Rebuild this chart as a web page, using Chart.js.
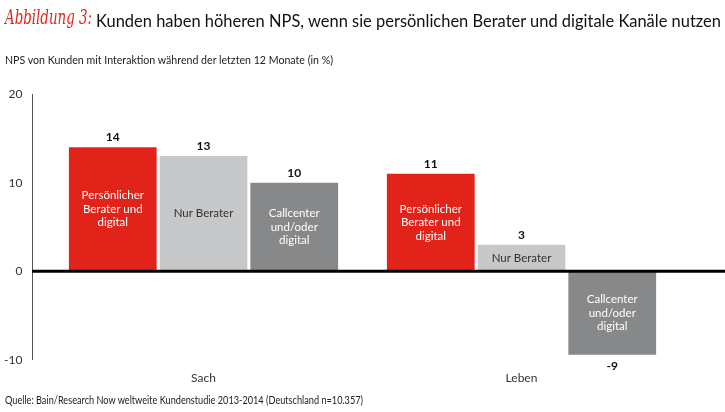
<!DOCTYPE html>
<html>
<head>
<meta charset="utf-8">
<script src="https://cdn.jsdelivr.net/npm/chart.js@4.4.1/dist/chart.umd.min.js"></script>
<style>
  html, body { margin: 0; padding: 0; background: #fff; }
  #wrap { position: relative; width: 725px; height: 412px; overflow: hidden; font-family: Lato, "Noto Sans", sans-serif; }
  #chart { position: absolute; left: 0; top: 0; }
  .txt { position: absolute; white-space: nowrap; color: #222; transform-origin: left center; }
  #fig { left: 5px; top: 5px; font-family: "DejaVu Serif", serif; font-style: italic; font-size: 21px; color: #e2231a; }
  #title { left: 96px; top: 9px; font-size: 18px; color: #111; }
  #sub { left: 5px; top: 53px; font-size: 11px; }
  #src { left: 5px; top: 393px; font-size: 11px; }
</style>
</head>
<body>
<div id="wrap">
  <canvas id="chart" width="725" height="412"></canvas>
  <div class="txt" id="fig" data-w="87">Abbildung 3:</div>
  <div class="txt" id="title" data-w="625">Kunden haben höheren NPS, wenn sie persönlichen Berater und digitale Kanäle nutzen</div>
  <div class="txt" id="sub" data-w="328">NPS von Kunden mit Interaktion während der letzten 12 Monate (in %)</div>
  <div class="txt" id="src" data-w="358">Quelle: Bain/Research Now weltweite Kundenstudie 2013-2014 (Deutschland n=10.357)</div>
</div>
<script>
var categories = ['Sach', 'Leben'];
var seriesNames = ['Persönlicher Berater und digital', 'Nur Berater', 'Callcenter und/oder digital'];
var beraterDigital = [14, 11];
var nurBerater = [13, 3];
var callcenterDigital = [10, -9.4];
var yTicks = [-10, 0, 10, 20];

// text printed inside each bar
var innerLines = [
    ['Persönlicher', 'Berater und', 'digital'],
    ['Nur Berater'],
    ['Callcenter', 'und/oder', 'digital']
];
var innerColors = ['#ffffff', '#333333', '#ffffff'];

// squeeze the header/footer texts to the reference widths (narrow font in original)
document.querySelectorAll('.txt').forEach(function(el) {
    var w = el.getBoundingClientRect().width;
    el.style.transform = 'scaleX(' + (parseFloat(el.dataset.w) / w) + ')';
});

// axis line at x=32 and the heavy zero line
var axisLines = {
    id: 'axisLines',
    afterDatasetsDraw: function(chart) {
        var c = chart.ctx;
        var y = chart.scales.y;
        var zero = y.getPixelForValue(0);
        c.save();
        c.strokeStyle = '#555';
        c.lineWidth = 1;
        c.beginPath();
        c.moveTo(32.5, y.getPixelForValue(20));
        c.lineTo(32.5, y.getPixelForValue(-10));
        c.stroke();
        c.strokeStyle = '#000';
        c.lineWidth = 3;
        c.beginPath();
        c.moveTo(32, zero);
        c.lineTo(725, zero);
        c.stroke();
        c.restore();
    }
};

var barLabels = {
    id: 'barLabels',
    afterDatasetsDraw: function(chart) {
        var c = chart.ctx;
        c.save();
        c.textAlign = 'center';
        c.textBaseline = 'middle';
        chart.data.datasets.forEach(function(ds, i) {
            var meta = chart.getDatasetMeta(i);
            meta.data.forEach(function(bar, j) {
                var v = ds.data[j];
                c.font = 'bold 12px Lato, "Noto Sans", sans-serif';
                c.fillStyle = '#111';
                var ly = v >= 0 ? bar.y - 10 : bar.y + 11;
                c.fillText(String(Math.round(v)), bar.x, ly);
                c.font = '11.5px Lato, "Noto Sans", sans-serif';
                c.fillStyle = innerColors[i];
                var lines = innerLines[i];
                var mid = (bar.y + bar.base) / 2;
                var lh = 13.5;
                lines.forEach(function(t, k) {
                    c.fillText(t, bar.x, mid + (k - (lines.length - 1) / 2) * lh);
                });
            });
        });
        c.restore();
    }
};

var ctx = document.getElementById('chart').getContext('2d');
var npsChart = new Chart(ctx, {
    type: 'bar',
    data: {
        labels: categories,
        datasets: [
            { label: seriesNames[0], data: beraterDigital, backgroundColor: '#e2231a' },
            { label: seriesNames[1], data: nurBerater, backgroundColor: '#c7c8c9' },
            { label: seriesNames[2], data: callcenterDigital, backgroundColor: '#878889' }
        ]
    },
    options: {
        responsive: false,
        animation: false,
        categoryPercentage: 0.856,
        barPercentage: 0.967,
        layout: { padding: { left: 0, right: 44.5, top: 94, bottom: 0 } },
        plugins: {
            legend: { display: false },
            tooltip: { enabled: false }
        },
        scales: {
            x: {
                grid: { display: false, drawTicks: false },
                border: { display: false },
                ticks: {
                    padding: 11,
                    color: '#333',
                    font: { family: 'Lato, "Noto Sans", sans-serif', size: 12 }
                },
                afterFit: function(s) { s.height = 52; }
            },
            y: {
                min: -10,
                max: 20,
                afterBuildTicks: function(s) {
                    s.ticks = yTicks.map(function(v) { return { value: v }; });
                },
                grid: { display: false, drawTicks: false },
                border: { display: false },
                ticks: {
                    padding: 22,
                    color: '#333',
                    font: { family: 'Lato, "Noto Sans", sans-serif', size: 12 }
                },
                afterFit: function(s) { s.width = 44.5; }
            }
        }
    },
    plugins: [axisLines, barLabels]
});
</script>
</body>
</html>
